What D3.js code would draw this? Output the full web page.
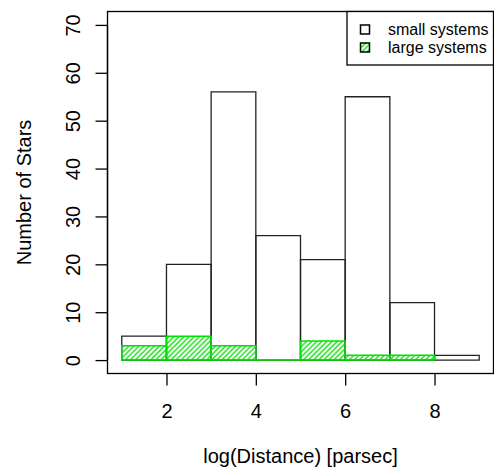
<!DOCTYPE html>
<html>
<head>
<meta charset="utf-8">
<script src="https://cdn.jsdelivr.net/npm/d3@7/dist/d3.min.js"></script>
<style>
  html, body { margin: 0; padding: 0; background: #fff; }
  svg { display: block; }
  text { font-family: "Liberation Sans", Arial, Helvetica, sans-serif; fill: #000; }
</style>
</head>
<body>
<svg id="chart" width="494" height="472"></svg>
<script>
// ---- data ----
const smallBreaks = [1, 2, 3, 4, 5, 6, 7, 8, 9];
const smallCounts = [5, 20, 56, 26, 21, 55, 12, 1];
const largeBreaks = [1, 2, 3, 4, 5, 6, 7, 8];
const largeCounts = [3, 5, 3, 0, 4, 1, 1];
const xTicks = [2, 4, 6, 8];
const yTicks = [0, 10, 20, 30, 40, 50, 60, 70];
const legendLabels = ["small systems", "large systems"];
const xTitle = "log(Distance) [parsec]";
const yTitle = "Number of Stars";

const green = "#00e000";
const svg = d3.select("#chart");

const x = d3.scaleLinear().domain([0.68, 9.32]).range([107.5, 493.5]);
const y = d3.scaleLinear().domain([-2.8, 72.8]).range([373.5, 11.5]);

// hatch pattern
const defs = svg.append("defs");
const pat = defs.append("pattern")
  .attr("id", "hatch")
  .attr("patternUnits", "userSpaceOnUse")
  .attr("width", 3.6).attr("height", 3.6)
  .attr("patternTransform", "rotate(45)");
pat.append("line")
  .attr("x1", 1).attr("y1", -1).attr("x2", 1).attr("y2", 5)
  .attr("stroke", green).attr("stroke-width", 1.3);

function bins(breaks, counts) {
  return counts.map((c, i) => ({ x0: breaks[i], x1: breaks[i + 1], v: c }));
}
function barPath(d) {
  const l = x(d.x0), r = x(d.x1), t = y(d.v), b = y(0);
  return `M${l},${b}V${t}H${r}V${b}Z`;
}

// small systems bars
svg.append("g").selectAll("path")
  .data(bins(smallBreaks, smallCounts))
  .join("path")
  .attr("d", barPath)
  .attr("fill", "none")
  .attr("stroke", "#222")
  .attr("stroke-width", 1.3);

// large systems bars (hatched)
svg.append("g").selectAll("path")
  .data(bins(largeBreaks, largeCounts))
  .join("path")
  .attr("d", barPath)
  .attr("fill", "url(#hatch)")
  .attr("stroke", green)
  .attr("stroke-width", 1.5);

// plot box
svg.append("rect")
  .attr("x", x.range()[0]).attr("y", y.range()[1])
  .attr("width", x.range()[1] - x.range()[0])
  .attr("height", y.range()[0] - y.range()[1])
  .attr("fill", "none").attr("stroke", "#000").attr("stroke-width", 1.3);

// x axis
const xAxis = d3.axisBottom(x).tickValues(xTicks).tickSize(12).tickPadding(10).tickFormat(d3.format("d"));
const gx = svg.append("g").attr("transform", `translate(0,${y.range()[0]})`).call(xAxis);
gx.select(".domain").remove();
gx.selectAll("line").attr("stroke", "#000").attr("stroke-width", 1.3);
gx.selectAll("text").attr("font-size", 20).attr("font-family", "Liberation Sans, Arial, sans-serif")
  .attr("y", null).attr("dy", null).attr("transform", "translate(0,44)");

// y axis
const yAxis = d3.axisLeft(y).tickValues(yTicks).tickSize(12).tickFormat(d3.format("d"));
const gy = svg.append("g").attr("transform", `translate(${x.range()[0]},0)`).call(yAxis);
gy.select(".domain").attr("d", `M0,${y(0)}V${y(70)}`).attr("stroke", "#000").attr("stroke-width", 1.3);
gy.selectAll("line").attr("stroke", "#000").attr("stroke-width", 1.3);
gy.selectAll("text")
  .attr("font-size", 20).attr("font-family", "Liberation Sans, Arial, sans-serif")
  .attr("x", null).attr("dy", null)
  .attr("text-anchor", "middle")
  .attr("transform", "translate(-28,0) rotate(-90)");

// titles
svg.append("text")
  .attr("x", (x.range()[0] + x.range()[1]) / 2)
  .attr("y", 463)
  .attr("text-anchor", "middle")
  .attr("font-size", 20)
  .text(xTitle);
svg.append("text")
  .attr("transform", `translate(31,${(y.range()[0] + y.range()[1]) / 2}) rotate(-90)`)
  .attr("text-anchor", "middle")
  .attr("font-size", 20)
  .text(yTitle);

// legend
const leg = svg.append("g");
leg.append("rect")
  .attr("x", 347).attr("y", y.range()[1])
  .attr("width", x.range()[1] - 347).attr("height", 65 - y.range()[1])
  .attr("fill", "#fff").attr("stroke", "#000").attr("stroke-width", 1.3);
const rows = [29.5, 47.5];
legendLabels.forEach((lab, i) => {
  leg.append("rect")
    .attr("x", 360.5).attr("y", rows[i] - 4.5)
    .attr("width", 9).attr("height", 9)
    .attr("fill", i === 0 ? "#fff" : "url(#hatch)")
    .attr("stroke", "#000").attr("stroke-width", 1.5);
  leg.append("text")
    .attr("x", 388).attr("y", rows[i] + 5.6)
    .attr("font-size", 16)
    .text(lab);
});
</script>
</body>
</html>
